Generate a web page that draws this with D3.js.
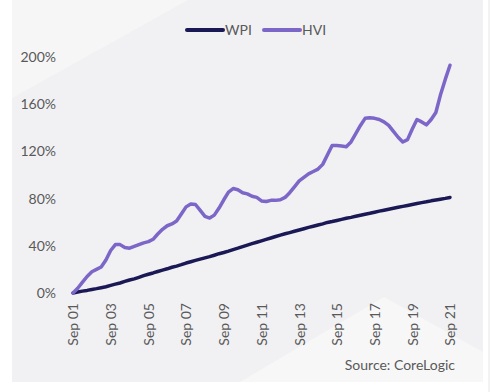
<!DOCTYPE html>
<html>
<head>
<meta charset="utf-8">
<script src="https://cdn.jsdelivr.net/npm/d3@7"></script>
<style>
  html, body { margin: 0; padding: 0; background: #ffffff; }
  svg { display: block; }
  text { font-family: Lato, "Open Sans", sans-serif; }
</style>
</head>
<body>
<svg id="chart" width="500" height="392"></svg>
<script>
// ---- data (cumulative growth since Sep 2001, %, quarterly) ----
const startMonth = "2001-09";
const wpi = [0,0.8,1.6,2.2,3.0,3.7,4.5,5.3,6.5,7.5,8.5,9.8,11.0,12.0,13.3,14.7,15.9,17.0,18.2,19.4,
  20.5,21.8,22.8,24.0,25.4,26.5,27.6,28.7,29.8,30.8,32.0,33.3,34.3,35.5,36.8,38.0,39.3,40.6,41.8,43.0,
  44.2,45.4,46.6,47.9,49.1,50.2,51.2,52.3,53.4,54.5,55.6,56.6,57.6,58.6,59.8,60.6,61.5,62.4,63.3,64.1,
  65.0,65.9,66.8,67.6,68.5,69.4,70.2,71.0,71.8,72.6,73.4,74.2,75.0,75.8,76.6,77.3,78.1,78.8,79.5,80.2,81.0];
const hvi = [0,4,9,14,18,20,22,28,36,41,41,38.5,38,39.5,41,42.5,43.5,45.5,50,54,
  57,58.5,61,67,73,75.5,75,70,65,63.5,66,72,79,85.5,88.5,87.5,85,84,82,81,
  78,77.5,78.5,78.5,79,81,85,90,95,98,101,103,105,109,117,125,125,124.5,124,128,
  135,142,148,148.5,148,147,145,142,137,132,128,130,139,147,145,142.5,147,153,168,181,193];
const seriesNames = ["WPI", "HVI"];
const seriesColors = ["#1b1955", "#7c66c8"];
const yTicks = [0, 40, 80, 120, 160, 200];
const xTickLabels = ["Sep 01","Sep 03","Sep 05","Sep 07","Sep 09","Sep 11","Sep 13","Sep 15","Sep 17","Sep 19","Sep 21"];
const sourceText = "Source: CoreLogic";

// ---- setup ----
const svg = d3.select("#chart");
const parseMonth = d3.timeParse("%Y-%m");
const t0 = parseMonth(startMonth);
const dates = wpi.map((_, i) => d3.timeMonth.offset(t0, 3 * i));
const tickDates = xTickLabels.map((_, i) => d3.timeMonth.offset(t0, 24 * i));

const x = d3.scaleTime().domain([t0, dates[dates.length - 1]]).range([73, 450]);
const y = d3.scaleLinear().domain([0, 200]).range([293, 57]);

// background panel
svg.append("rect").attr("x", 12).attr("y", 0).attr("width", 471).attr("height", 382).attr("fill", "#f1f1f3");
svg.append("path").attr("d", "M12,0 L188,0 L12,98 Z").attr("fill", "#f6f6f7");
svg.append("path").attr("d", "M240,382 L384,297 L483,352 L483,382 Z").attr("fill", "#f7f7f8");
svg.append("line").attr("x1", 489).attr("x2", 489).attr("y1", 0).attr("y2", 392).attr("stroke", "#e6e6e6");

// y axis
const yAxis = d3.axisLeft(y).tickValues(yTicks).tickFormat(d => d + "%").tickSize(0).tickPadding(0);
const gy = svg.append("g").attr("transform", "translate(56,0)").call(yAxis);
gy.select(".domain").remove();
gy.selectAll("text").attr("font-size", 14).attr("fill", "#595959").attr("font-family", "Lato, sans-serif");

// x axis
const xAxis = d3.axisBottom(x).tickValues(tickDates).tickFormat((d, i) => xTickLabels[i]).tickSize(0);
const gx = svg.append("g").attr("transform", "translate(0,303)").call(xAxis);
gx.select(".domain").remove();
gx.selectAll("text")
  .attr("font-size", 14).attr("fill", "#595959").attr("font-family", "Lato, sans-serif")
  .attr("text-anchor", "end")
  .attr("transform", "rotate(-90)")
  .attr("x", 0).attr("y", 0).attr("dx", 0).attr("dy", "0.35em");

// lines
const line = d3.line().x((d, i) => x(dates[i])).y(d => y(d)).curve(d3.curveLinear);
[wpi, hvi].forEach((vals, k) => {
  svg.append("path").datum(vals)
    .attr("d", line)
    .attr("fill", "none")
    .attr("stroke", seriesColors[k])
    .attr("stroke-width", 3.5)
    .attr("stroke-linejoin", "round")
    .attr("stroke-linecap", "round");
});

// legend
const legendX = [187, 264];
seriesNames.forEach((name, k) => {
  const g = svg.append("g").attr("transform", `translate(${legendX[k]},30)`);
  g.append("line").attr("x1", 0).attr("x2", 36).attr("y1", 0).attr("y2", 0)
    .attr("stroke", seriesColors[k]).attr("stroke-width", 4).attr("stroke-linecap", "round");
  g.append("text").attr("x", 38).attr("y", 0).attr("dy", "0.35em")
    .attr("font-size", 14).attr("fill", "#595959").text(name);
});

// source
svg.append("text").attr("x", 455).attr("y", 370).attr("text-anchor", "end")
  .attr("font-size", 14).attr("fill", "#595959").text(sourceText);
</script>
</body>
</html>
